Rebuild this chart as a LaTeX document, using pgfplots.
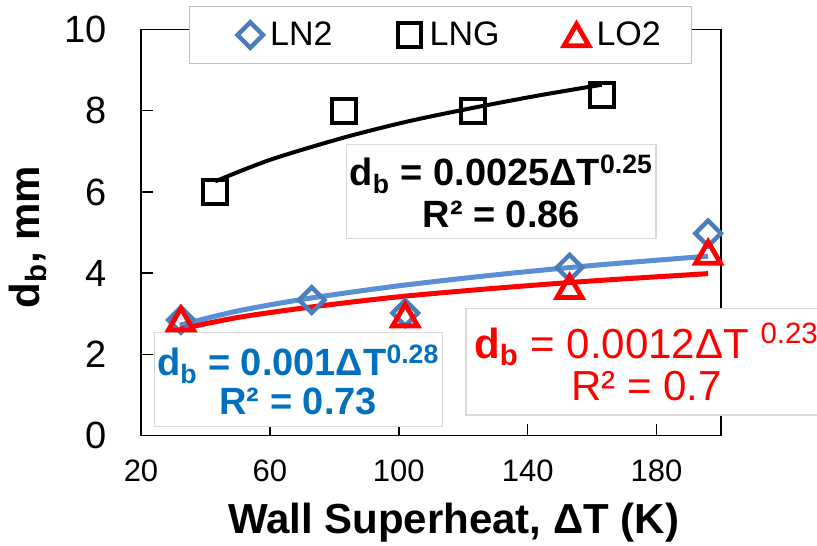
\documentclass[border=0pt]{standalone}
\usepackage{fontspec}
\setmainfont{Liberation Sans}
\usepackage{pgfplots}
\pgfplotsset{compat=1.18}
\definecolor{ln2}{HTML}{4A7EBB}
\definecolor{ln2fit}{HTML}{5A8ED5}
\definecolor{ln2txt}{HTML}{0070C0}
\definecolor{boxgray}{HTML}{D9D9D9}
\definecolor{leggray}{HTML}{BFBFBF}
\begin{document}
\begin{tikzpicture}
\useasboundingbox (-70.5pt,-54.65pt) rectangle (338pt,217.85pt);
\begin{axis}[
  at={(0pt,0pt)}, anchor=south west,
  scale only axis, width=290pt, height=203.1pt,
  xmin=20, xmax=200, ymin=0, ymax=10,
  xtick={20,60,100,140,180}, ytick={0,2,4,6,8,10},
  tick align=inside, xtick pos=bottom, ytick pos=left,
  major tick length=6pt,
  axis line style={line width=0.75pt},
  every tick/.style={black, line width=0.75pt},
  /pgf/number format/assume math mode=true,
  xticklabel style={font=\fontsize{15.5}{15.5}\selectfont, yshift=-8.5pt},
  yticklabel style={font=\fontsize{19}{19}\selectfont, xshift=-13.5pt},
  xlabel={\textbf{Wall Superheat, ΔT (K)}},
  ylabel={\textbf{d\textsubscript{b}, mm}},
  xlabel style={font=\fontsize{21}{21}\selectfont, at={(axis description cs:0.5388,-0.2403)}, anchor=base},
  ylabel style={font=\fontsize{21}{21}\selectfont, at={(axis description cs:-0.195,0.489)}, anchor=center},
  clip=false,
  legend columns=3,
  legend style={
    at={(rel axis cs:0.5164,0.9865)}, anchor=center,
    draw=leggray, fill=white,
    font=\fontsize{17}{17}\selectfont,
    inner xsep=15.5pt, inner ysep=7.2pt,
    nodes={inner sep=0pt},
    /tikz/every odd column/.style={column sep=3pt},
    /tikz/every even column/.style={column sep=23.5pt},
  },
  legend image code/.code={\path[draw=none, fill=none] (-15pt,-7pt) rectangle (7pt,7pt); \draw[#1] plot coordinates {(0pt,0pt)};},
]
\addplot[only marks, mark=square, mark size=4.5pt, color=ln2, line width=2.2pt, mark options={rotate=45, line join=miter}]
  coordinates {(32.4,2.85) (73,3.34) (102,3.02) (153,4.14) (196,4.98)};
\addlegendentry{LN2}
\addplot[only marks, mark=square, mark size=5.9pt, color=black, line width=2pt, mark options={line join=miter}]
  coordinates {(43,6.0) (83,7.99) (123,7.99) (163,8.39)};
\addlegendentry{LNG}
\addplot[only marks, mark=triangle, mark size=7.2pt, color=red, line width=2.4pt, mark options={yshift=-1.8pt, line join=miter}]
  coordinates {(32.4,2.87) (102,2.97) (153,3.67) (196,4.51)};
\addlegendentry{LO2}
\addplot[forget plot, smooth, color=ln2fit, line width=2.5pt]
  coordinates {(32,2.72) (50,3.07) (72,3.38) (100,3.69) (130,3.96) (160,4.19) (196,4.42)};
\addplot[forget plot, smooth, color=black, line width=2pt]
  coordinates {(43,6.26) (60,6.79) (83,7.34) (103,7.74) (123,8.07) (143,8.37) (163,8.64)};
\addplot[forget plot, smooth, color=red, line width=2.5pt]
  coordinates {(32,2.62) (50,2.91) (72,3.16) (100,3.42) (130,3.63) (160,3.81) (196,3.99)};
\node[draw=boxgray, line width=0.6pt, fill=white, align=center, font=\fontsize{19}{20.8}\selectfont\bfseries, minimum width=154.7pt, minimum height=47pt, inner sep=0pt]
  at (axis cs:131.8,6.02) {d\textsubscript{b} = 0.0025ΔT\textsuperscript{0.25}\\R² = 0.86};
\node[draw=boxgray, line width=0.6pt, fill=white, text=ln2txt, align=center, font=\fontsize{19}{19.2}\selectfont\bfseries, minimum width=143.9pt, minimum height=47pt, inner sep=0pt]
  at (axis cs:68.8,1.38) {d\textsubscript{b} = 0.001ΔT\textsuperscript{0.28}\\R² = 0.73};
\node[draw=boxgray, line width=0.6pt, fill=white, text=red, align=center, font=\fontsize{21}{20.8}\selectfont, minimum width=180.5pt, minimum height=53.3pt, inner sep=0pt]
  at (axis cs:176.9,1.82) {{\bfseries d\textsubscript{b}} = 0.0012ΔT \textsuperscript{0.23}\\R² = 0.7};
\end{axis}
\end{tikzpicture}
\end{document}
